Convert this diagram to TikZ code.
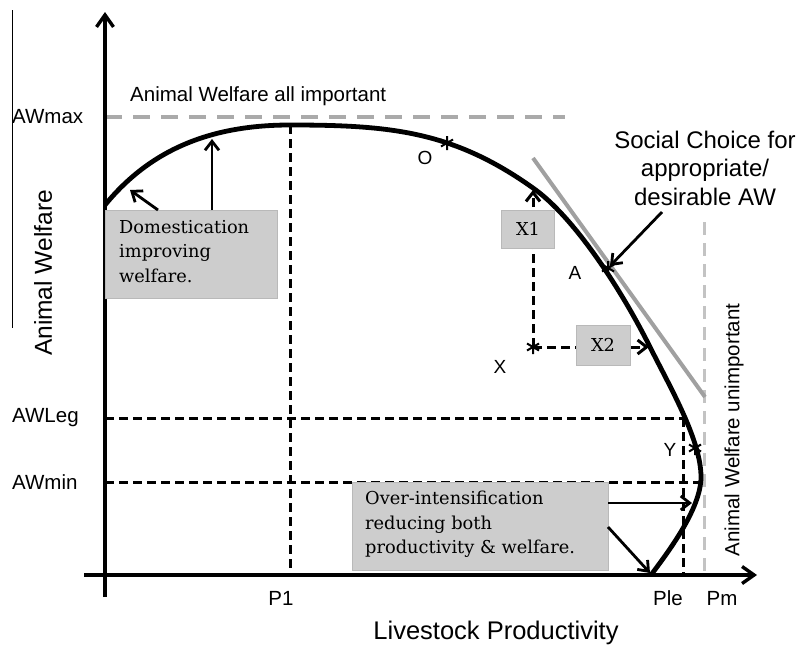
\documentclass[tikz,border=0pt]{standalone}
\usepackage{fontspec}
\newfontfamily\arial{Liberation Sans}
\newfontfamily\boxfont{DejaVu Serif}
\usetikzlibrary{arrows.meta}
\definecolor{boxgray}{RGB}{205,205,205}
\definecolor{boxedge}{RGB}{185,185,185}
\definecolor{dashgray}{RGB}{170,170,170}
\definecolor{lightdash}{RGB}{195,195,195}
\definecolor{tangray}{RGB}{160,160,160}
\begin{document}
\begin{tikzpicture}[x=1pt,y=-1pt,
  axisline/.style={line width=3.4pt,-{Straight Barb[length=12pt,width=17pt]}},
  blackdash/.style={line width=3pt,dash pattern=on 9pt off 5pt},
  topdash/.style={line width=4.5pt,dashgray,dash pattern=on 17pt off 11pt},
  pmdash/.style={line width=3pt,lightdash,dash pattern=on 13pt off 8pt},
  curveline/.style={line width=4.8pt,line join=round},
  tangent/.style={line width=4pt,tangray},
  pointer/.style={line width=2.8pt,-{Straight Barb[length=9pt,width=14pt]}},
  dashpointer/.style={line width=3pt,dash pattern=on 9pt off 5pt,-{Straight Barb[length=9pt,width=14pt]}},
  graybox/.style={fill=boxgray,draw=boxedge,line width=0.8pt,inner sep=0pt},
  boxtext/.style={font=\boxfont\fontsize{17.8}{24.5}\selectfont,align=left},
  lbl/.style={font=\arial\fontsize{20.5}{24}\selectfont,inner sep=0pt},
  astr/.pic={\draw[line width=2pt] (0,-7)--(0,7) (-6,-3.5)--(6,3.5) (-6,3.5)--(6,-3.5);}
]
\useasboundingbox (0,0) rectangle (806,646);

% thin left line
\draw[line width=0.9pt] (12,10) -- (12,328);

% reference lines
\draw[topdash] (105,117) -- (565,117);
\draw[blackdash] (290,125) -- (290,575);
\draw[blackdash] (105,418) -- (683,418);
\draw[blackdash] (105,482) -- (703,482);
\draw[blackdash] (683,418) -- (683,575);
\draw[pmdash] (704,222) -- (704,575);

% tangent
\draw[tangent] (533,158) -- (705,397);

% axes
\coordinate (ytop) at (105,12);
\coordinate (ybot) at (105,597);
\coordinate (xleft) at (84,575);
\coordinate (xright) at (757,575);
\draw[axisline] (ybot) -- (ytop);
\draw[axisline] (xleft) -- (xright);

% frontier curve
\draw[curveline] (105,205) .. controls (150,150) and (210,125) .. (290,125)
  .. controls (390,125) and (453,131) .. (533,188)
  .. controls (573,216) and (620,287) .. (650,347)
  .. controls (670,387) and (701,440) .. (701,477)
  .. controls (701,510) and (665,556) .. (651,575);

% points on curve
\coordinate (Opt) at (447,143);
\coordinate (Apt) at (608,268);
\coordinate (Xpt) at (533,347);
\coordinate (Ypt) at (695,448);
\coordinate (X1end) at (533,190);
\coordinate (X2end) at (649,347);
\coordinate (domA) at (130,190);
\coordinate (domB) at (212,139);
\coordinate (socEnd) at (610,266);
\coordinate (ovA) at (692,503);
\coordinate (ovB) at (650,573);

% X arrows
\draw[dashpointer] (Xpt) -- (X1end);
\draw[dashpointer] (Xpt) -- (X2end);

% stars
\pic at (Opt) {astr};
\pic at (Apt) {astr};
\pic at (Xpt) {astr};
\pic at (Ypt) {astr};

% boxes
\node[graybox,minimum width=172pt,minimum height=88pt,anchor=north west] (dom) at (105,210) {};
\node[boxtext,anchor=north west,inner sep=0pt] (domtxt) at (119,220) {Domestication\\improving\\welfare.};
\node[graybox,minimum width=256pt,minimum height=88pt,anchor=north west] (over) at (352,482) {};
\node[boxtext,anchor=north west,inner sep=0pt] (overtxt) at (365,491) {Over-intensification\\reducing both\\productivity \& welfare.};
\node[graybox,minimum width=53pt,minimum height=38pt,font=\boxfont\fontsize{17.8}{20}\selectfont] (X1) at (528,229) {X1};
\node[graybox,minimum width=54pt,minimum height=40pt,font=\boxfont\fontsize{17.8}{20}\selectfont] (X2) at (603,345) {X2};

% box pointers
\coordinate (domS1) at (158,210);
\coordinate (domS2) at (212,210);
\draw[pointer] (domS1) -- (domA);
\draw[pointer] (domS2) -- (domB);
\coordinate (ovS1) at (608,503);
\coordinate (ovS2) at (608,527);
\draw[pointer] (ovS1) -- (ovA);
\draw[pointer] (ovS2) -- (ovB);

% social choice
\node[font=\arial\fontsize{24}{28.5}\selectfont,align=center,inner sep=0pt] (soc) at (705,168) {Social Choice for\\appropriate/\\desirable AW};
\coordinate (socS) at (662,212);
\draw[pointer] (socS) -- (socEnd);

% labels
\node[lbl,anchor=west] (awmax) at (12,117) {AWmax};
\node[lbl,anchor=west] (awleg) at (12,418) {AWLeg};
\node[lbl,anchor=west] (awmin) at (12,482) {AWmin};
\node[lbl,anchor=west] (awall) at (130,96) {Animal Welfare all important};
\node[lbl] (p1) at (281,598) {P1};
\node[lbl] (ple) at (668,598) {Ple};
\node[lbl] (pm) at (722,598) {Pm};
\node[lbl,rotate=90] (awun) at (734,430) {Animal Welfare unimportant};
\node[font=\arial\fontsize{25.5}{30}\selectfont,inner sep=0pt] (xlab) at (496,633) {Livestock Productivity};
\node[font=\arial\fontsize{24.5}{30}\selectfont,inner sep=0pt,rotate=90] (ylab) at (43,273) {Animal Welfare};
\node[font=\arial\fontsize{19}{22}\selectfont,inner sep=0pt] (Olab) at (425,158) {O};
\node[font=\arial\fontsize{19}{22}\selectfont,inner sep=0pt] (Alab) at (575,273) {A};
\node[font=\arial\fontsize{19}{22}\selectfont,inner sep=0pt] (Xlab) at (500,367) {X};
\node[font=\arial\fontsize{19}{22}\selectfont,inner sep=0pt] (Ylab) at (670,450) {Y};
\end{tikzpicture}
\end{document}
